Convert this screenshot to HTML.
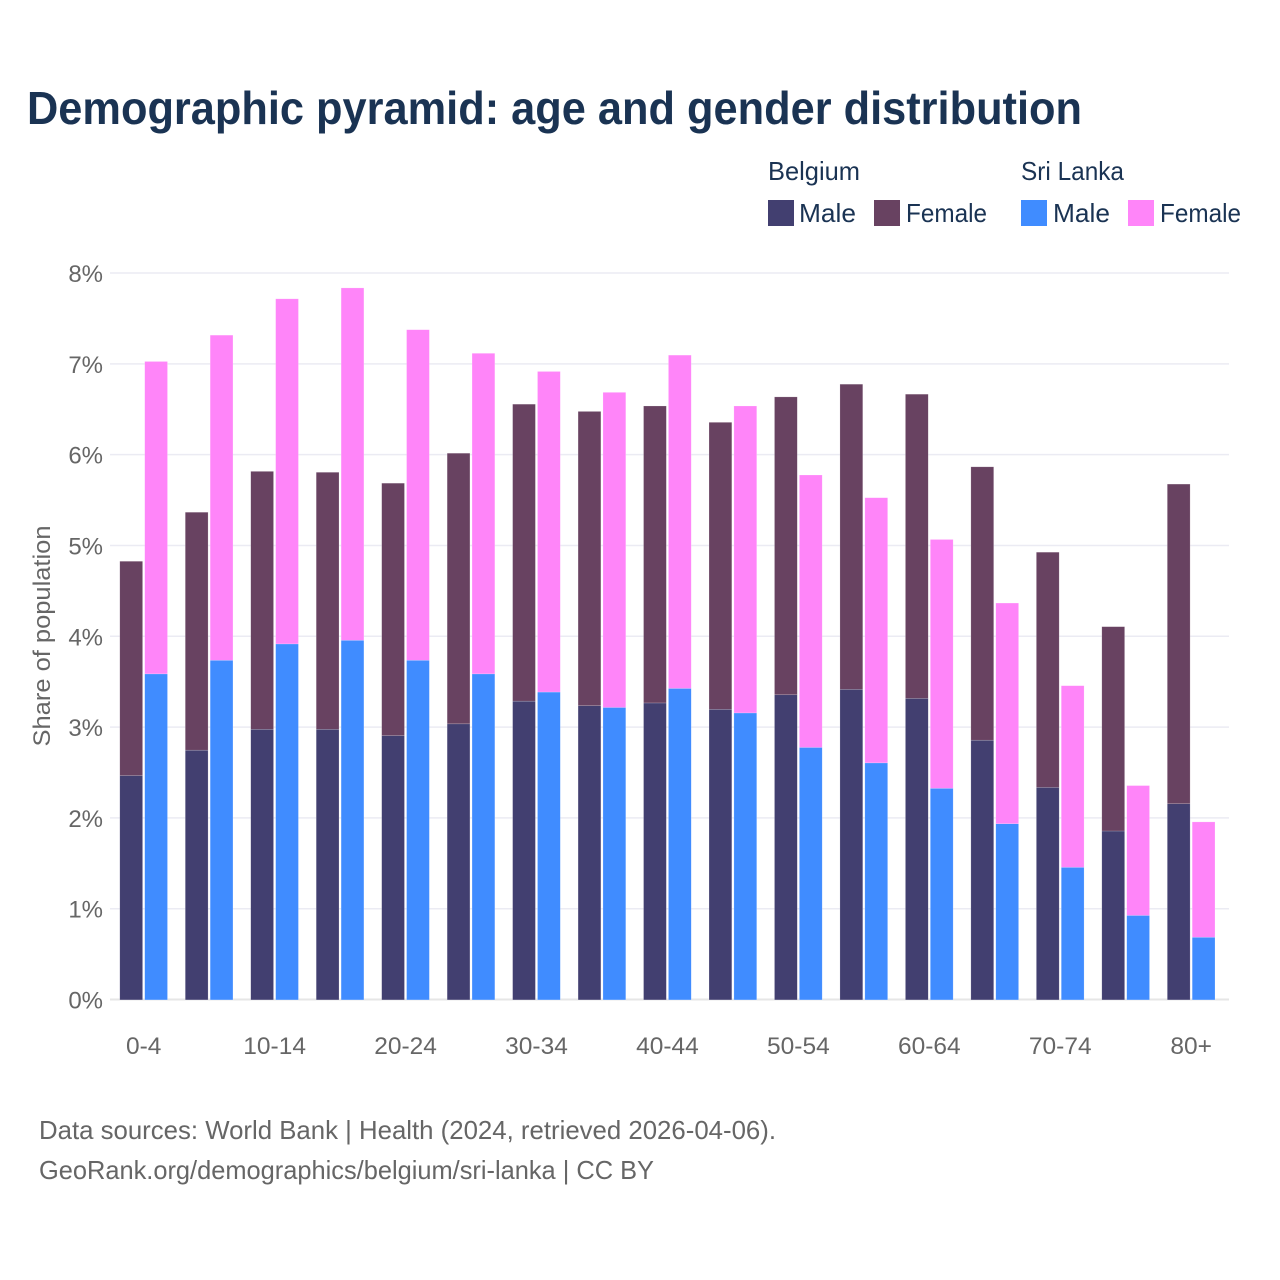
<!DOCTYPE html>
<html lang="en">
<head>
<meta charset="utf-8">
<title>Demographic pyramid</title>
<style>
html,body{margin:0;padding:0;background:#fff;}
svg{display:block;font-family:"Liberation Sans",sans-serif;}
</style>
</head>
<body>
<svg id="chart" xmlns="http://www.w3.org/2000/svg" width="1280" height="1280" viewBox="0 0 1280 1280">
  <rect x="0" y="0" width="1280" height="1280" fill="#ffffff"/>
  <text x="27" y="124" font-size="46" font-weight="700" fill="#1a3353" textLength="1055" lengthAdjust="spacingAndGlyphs">Demographic pyramid: age and gender distribution</text>
  <g font-size="26" fill="#1a3353">
    <text x="768" y="180" textLength="92" lengthAdjust="spacingAndGlyphs">Belgium</text>
    <text x="1021" y="180" textLength="103" lengthAdjust="spacingAndGlyphs">Sri Lanka</text>
    <rect x="768" y="200" width="26" height="26" fill="#423f70"/>
    <text x="799" y="222" textLength="57" lengthAdjust="spacingAndGlyphs">Male</text>
    <rect x="874" y="200" width="26" height="26" fill="#684261"/>
    <text x="906" y="222" textLength="81" lengthAdjust="spacingAndGlyphs">Female</text>
    <rect x="1021" y="200" width="26" height="26" fill="#408cff"/>
    <text x="1053" y="222" textLength="57" lengthAdjust="spacingAndGlyphs">Male</text>
    <rect x="1128" y="200" width="26" height="26" fill="#ff85f9"/>
    <text x="1160" y="222" textLength="81" lengthAdjust="spacingAndGlyphs">Female</text>
  </g>
  <g id="grid"></g>
  <g id="bars" transform="translate(0 0.4)"></g>
  <g id="xlabels"></g>
  <text transform="translate(50 636) rotate(-90)" text-anchor="middle" font-size="24" fill="#666666" textLength="221" lengthAdjust="spacingAndGlyphs">Share of population</text>
  <text x="39" y="1139" font-size="26" fill="#666666" textLength="737" lengthAdjust="spacingAndGlyphs">Data sources: World Bank | Health (2024, retrieved 2026-04-06).</text>
  <text x="39" y="1179" font-size="26" fill="#666666" textLength="615" lengthAdjust="spacingAndGlyphs">GeoRank.org/demographics/belgium/sri-lanka | CC BY</text>
</svg>
<script>
const ageGroups = ["0-4","5-9","10-14","15-19","20-24","25-29","30-34","35-39","40-44","45-49","50-54","55-59","60-64","65-69","70-74","75-79","80+"];
const xTickLabels = ["0-4","10-14","20-24","30-34","40-44","50-54","60-64","70-74","80+"];
const yTicks = [0,1,2,3,4,5,6,7,8];
const belgiumMale = [2.47,2.75,2.98,2.98,2.91,3.04,3.29,3.24,3.27,3.20,3.36,3.42,3.32,2.86,2.34,1.86,2.16];
const belgiumFemale = [2.36,2.62,2.84,2.83,2.78,2.98,3.27,3.24,3.27,3.16,3.28,3.36,3.35,3.01,2.59,2.25,3.52];
const sriLankaMale = [3.59,3.74,3.92,3.96,3.74,3.59,3.39,3.22,3.43,3.16,2.78,2.61,2.33,1.94,1.46,0.93,0.69];
const sriLankaFemale = [3.44,3.58,3.80,3.88,3.64,3.53,3.53,3.47,3.67,3.38,3.00,2.92,2.74,2.43,2.00,1.43,1.27];

const NS = "http://www.w3.org/2000/svg";
function yScale(v){ return 999.5 - v * (726.5 / 8); }
function xBand(i){ return 119.8 + i * ((1167.3 - 119.8) / 16); }
const barWidth = 22.8;
const barOffset = 24.9;

const grid = document.getElementById("grid");
yTicks.forEach(function(t){
  const line = document.createElementNS(NS, "line");
  
  
  line.setAttribute("x1", 110);
  line.setAttribute("x2", 1229);
  line.setAttribute("y1", yScale(t));
  line.setAttribute("y2", yScale(t));
  line.setAttribute("stroke", t === 0 ? "#e6e6e6" : "#ebebf3");
  line.setAttribute("stroke-width", t === 0 ? 2 : 1.5);
  grid.appendChild(line);
  const label = document.createElementNS(NS, "text");
  
  
  label.setAttribute("x", 103);
  label.setAttribute("y", yScale(t) + 9);
  label.setAttribute("text-anchor", "end");
  label.setAttribute("font-size", 24);
  label.setAttribute("fill", "#666666");
  label.textContent = t + "%";
  grid.appendChild(label);
});

const bars = document.getElementById("bars");
function addBar(x, base, value, color, name){
  const r = document.createElementNS(NS, "rect");
  
  
  r.setAttribute("x", x);
  r.setAttribute("width", barWidth);
  r.setAttribute("y", yScale(base + value));
  r.setAttribute("height", yScale(base) - yScale(base + value));
  r.setAttribute("fill", color);
  r.setAttribute("stroke", "#ffffff");
  r.setAttribute("stroke-opacity", "0.35");
  r.setAttribute("stroke-width", "0.5");
  bars.appendChild(r);
}
ageGroups.forEach(function(g, i){
  const x0 = xBand(i);
  addBar(x0, 0, belgiumMale[i], "#423f70", "bar-belgium-male");
  addBar(x0, belgiumMale[i], belgiumFemale[i], "#684261", "bar-belgium-female");
  addBar(x0 + barOffset, 0, sriLankaMale[i], "#408cff", "bar-sri-lanka-male");
  addBar(x0 + barOffset, sriLankaMale[i], sriLankaFemale[i], "#ff85f9", "bar-sri-lanka-female");
});

const xlabels = document.getElementById("xlabels");
ageGroups.forEach(function(g, i){
  if (xTickLabels.indexOf(g) < 0) return;
  const t = document.createElementNS(NS, "text");
  
  
  t.setAttribute("x", xBand(i) + 23.9);
  t.setAttribute("y", 1054);
  t.setAttribute("text-anchor", "middle");
  t.setAttribute("font-size", 24.5);
  t.setAttribute("fill", "#666666");
  t.textContent = g;
  xlabels.appendChild(t);
});
</script>
</body>
</html>
